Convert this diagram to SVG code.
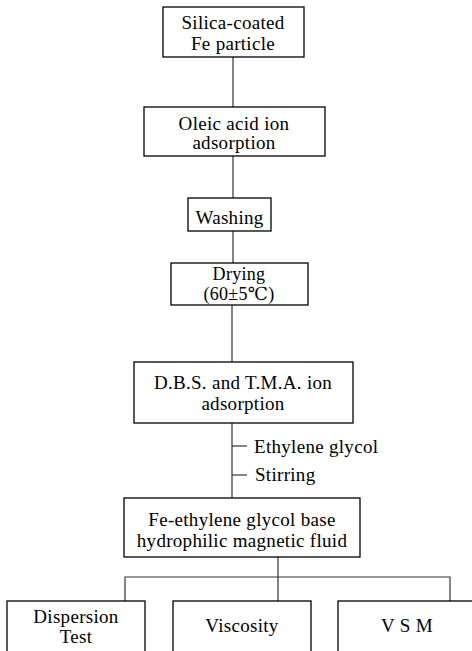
<svg xmlns="http://www.w3.org/2000/svg" width="472" height="651" viewBox="0 0 472 651">
<style>
.box{fill:#fff;stroke:#000;stroke-width:1.3}
.ln{fill:none;stroke:#333;stroke-width:1.2}
.t{font-family:'Liberation Serif','DejaVu Serif',serif;font-size:19px;letter-spacing:0.3px;fill:#000}
.c{text-anchor:middle}
</style>
<rect width="472" height="651" fill="#fff"/>
<g id="connectors">
<line class="ln" x1="233" y1="57" x2="233" y2="107"/>
<line class="ln" x1="233" y1="156" x2="233" y2="198"/>
<line class="ln" x1="233" y1="231" x2="233" y2="263"/>
<line class="ln" x1="232" y1="305" x2="232" y2="362"/>
<line class="ln" x1="232" y1="423" x2="232" y2="498"/>
<line class="ln" x1="232" y1="446" x2="247" y2="446"/>
<line class="ln" x1="232" y1="475" x2="247" y2="475"/>
<line class="ln" x1="278" y1="557" x2="278" y2="601"/>
<polyline class="ln" points="125,601 125,577 450,577 450,603"/>
</g>
<g class="t" font-family="Liberation Serif, DejaVu Serif, serif">
<g id="n1"><rect class="box" x="163" y="7" width="141" height="50"/><text class="c" x="233" y="29">Silica-coated</text><text class="c" x="233" y="50">Fe particle</text></g>
<g id="n2"><rect class="box" x="144" y="107" width="181" height="49"/><text class="c" x="234" y="130">Oleic acid ion</text><text class="c" x="234" y="149">adsorption</text></g>
<g id="n3"><rect class="box" x="188" y="198" width="83" height="33"/><text class="c" x="229.5" y="224">Washing</text></g>
<g id="n4"><rect class="box" x="171" y="263" width="137" height="42"/><text class="c" x="239" y="280" font-size="18">Drying</text><text class="c" x="239" y="300" font-size="18">(60±5℃)</text></g>
<g id="n5"><rect class="box" x="134" y="362" width="219" height="61"/><text class="c" x="243" y="389">D.B.S. and T.M.A. ion</text><text class="c" x="243" y="410">adsorption</text></g>
<g id="l1"><text x="254" y="453">Ethylene glycol</text></g>
<g id="l2"><text x="255" y="481">Stirring</text></g>
<g id="n6"><rect class="box" x="124" y="498" width="236" height="59"/><text class="c" x="242" y="526">Fe-ethylene glycol base</text><text class="c" x="242" y="547">hydrophilic magnetic fluid</text></g>
<g id="n7"><rect class="box" x="7" y="601" width="138" height="55"/><text class="c" x="76" y="623">Dispersion</text><text class="c" x="76" y="643">Test</text></g>
<g id="n8"><rect class="box" x="173" y="601" width="138" height="55"/><text class="c" x="242" y="632">Viscosity</text></g>
<g id="n9"><rect class="box" x="338" y="601" width="140" height="55"/><text class="c" x="407" y="632">V S M</text></g>
</g>
</svg>
